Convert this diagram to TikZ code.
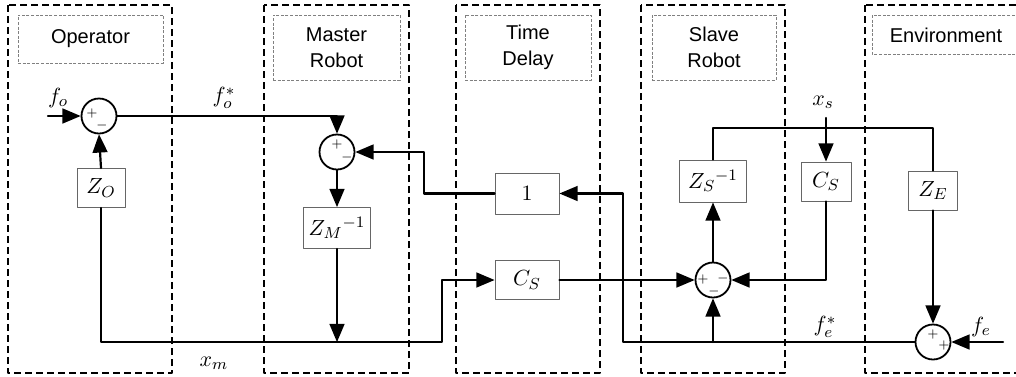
\documentclass[tikz,border=0pt]{standalone}
\usepackage{fontspec}
\setsansfont{Liberation Sans}
\usetikzlibrary{arrows,calc}

\begin{document}
\begin{tikzpicture}[line cap=round,line join=round,>=triangle 45,x=0.5pt,y=-0.5pt,
	panel/.style={line width=0.9pt,dash pattern=on 3.5pt off 2pt,line cap=butt},
	titlebox/.style={draw=gray,line width=0.4pt,dash pattern=on 1.5pt off 0.8pt,line cap=butt,
		font={\sffamily\fontsize{10}{13}\selectfont},align=center,inner sep=0pt},
	block/.style={draw=gray!80!black,line width=0.5pt,fill=white,inner sep=0pt,font=\fontsize{11}{13}\selectfont},
	sumnode/.style={draw,circle,line width=0.9pt,minimum size=17.5pt,inner sep=0pt},
	sig/.style={font=\fontsize{6}{6}\selectfont,inner sep=0pt},
	lbl/.style={font=\fontsize{11}{13}\selectfont},
	wire/.style={line width=1.1pt}]

		\useasboundingbox (0,0) rectangle (1016,376);

		%lohkot (dashed panels)
		\draw[panel] (8,5) rectangle (172,373);
		\draw[panel] (264,5) rectangle (409,373);
		\draw[panel] (456,5) rectangle (600,373);
		\draw[panel] (641,5) rectangle (785,373);
		\draw[panel] (865,5) rectangle (1040,373);

		%otsikot
		\node[titlebox,minimum width=72.5pt,minimum height=24pt] (tOp) at (90.5,39) {Operator};
		\node[titlebox,minimum width=63.5pt,minimum height=32.5pt] (tMa) at (336.5,47.5) {Master\\Robot};
		\node[titlebox,minimum width=63pt,minimum height=32.5pt] (tTd) at (528,47.5) {Time\\Delay};
		\node[titlebox,minimum width=62pt,minimum height=32.5pt] (tSl) at (714,47.5) {Slave\\Robot};
		\draw[titlebox] (872,15) rectangle (1040,54);
		\node[titlebox,draw=none] (tEn) at (946,35) {Environment};

		%summaimet
		\node[sumnode] (osum) at (99,116) {};
		\node[sig] (osp) at ($(osum)+(-7,-3)$) {$+$};
		\node[sig] (osm) at ($(osum)+(3,9)$) {$-$};
		\node[sumnode] (msum) at (337,152) {};
		\node[sig] (msp) at ($(msum)+(0,-8)$) {$+$};
		\node[sig] (msm) at ($(msum)+(10,5)$) {$-$};
		\node[sumnode] (ssum) at (713,280) {};
		\node[sig] (ssp) at ($(ssum)+(-10,-1)$) {$+$};
		\node[sig] (ssr) at ($(ssum)+(10,-2)$) {$-$};
		\node[sig] (ssb) at ($(ssum)+(1,11)$) {$-$};
		\node[sumnode] (esum) at (933,342) {};
		\node[sig] (esp) at ($(esum)+(0,-8)$) {$+$};
		\node[sig] (esq) at ($(esum)+(11,3)$) {$+$};

		%siirtofunktiot
		\node[block,minimum width=24pt,minimum height=19.5pt] (ZO) at (101,188) {$Z_O$};
		\node[block,minimum width=33.5pt,minimum height=20.5pt] (ZM) at (337,228) {$Z_M{}^{-1}$};
		\node[block,minimum width=32pt,minimum height=20.5pt] (one) at (527,193.5) {$1$};
		\node[block,minimum width=32pt,minimum height=19.5pt] (CSd) at (527,280) {$C_S$};
		\node[block,minimum width=33.5pt,minimum height=21pt] (ZSi) at (713,181) {$Z_S{}^{-1}$};
		\node[block,minimum width=25pt,minimum height=19.5pt] (CSs) at (826,181.5) {$C_S$};
		\node[block,minimum width=24.5pt,minimum height=19.5pt] (ZE) at (933,190.5) {$Z_E$};

		%apupisteet
		\coordinate (foin) at (48,116);
		\coordinate (xmturn) at (442,342);
		\coordinate (dly) at (424,152);
		\coordinate (xstop) at (713,128);
		\coordinate (xsin) at (826,118);
		\coordinate (fbk) at (623,342);
		\coordinate (fein) at (1003,342);

		%signaalit
		\draw[wire,->] (foin) -- (osum.west);
		\draw[wire,->] (osum.east) -| (msum.north);
		\draw[wire,->] (ZO.north) -- (osum.south);
		\draw[wire,->] (ZO.south) |- (xmturn) |- (CSd.west);
		\draw[wire,->] (msum.south) -- (ZM.north);
		\draw[wire,->] (ZM.south) -- (ZM.south |- xmturn);
		\draw[wire,->] (one.west) -| (dly) -- (msum.east);
		\draw[wire,->] (CSd.east) -- (ssum.west);
		\draw[wire,->] (ssum.north) -- (ZSi.south);
		\draw[wire] (ZSi.north) -- (xstop) -| (ZE.north);
		\draw[wire,->] (xsin) -- (CSs.north);
		\draw[wire,->] (CSs.south) |- (ssum.east);
		\draw[wire,->] (ZE.south) -- (esum.north);
		\draw[wire,->] (fein) -- (esum.east);
		\draw[wire,->] (esum.west) -- (fbk) |- (one.east);
		\draw[wire,->] (ssum.south |- fbk) -- (ssum.south);

		%merkinnat
		\node[lbl] (lfo) at (58,98) {$f_o$};
		\node[lbl] (lfos) at (224,98) {$f_o^*$};
		\node[lbl] (lxm) at (214,363) {$x_m$};
		\node[lbl] (lxs) at (823,102) {$x_s$};
		\node[lbl] (lfes) at (825,327) {$f_e^*$};
		\node[lbl] (lfe) at (981,327) {$f_e$};

	\end{tikzpicture}
\end{document}
